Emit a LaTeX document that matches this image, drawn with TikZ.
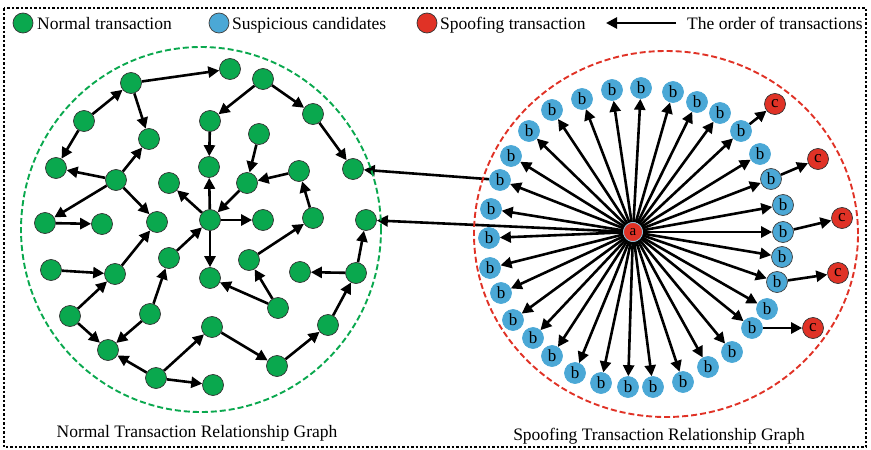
\documentclass[tikz,border=0pt]{standalone}
\usepackage{fontspec}
\setmainfont{Liberation Serif}
\usetikzlibrary{arrows.meta}
\pgfdeclarelayer{bg}
\pgfsetlayers{bg,main}
\definecolor{ngreen}{RGB}{10,168,78}
\definecolor{nblue}{RGB}{75,168,214}
\definecolor{nred}{RGB}{224,50,38}
\begin{document}
\begin{tikzpicture}[x=1pt,y=-1pt,
  gn/.style={circle,fill=ngreen,draw=black!80,line width=0.7pt,minimum size=21pt,inner sep=0pt},
  bn/.style={circle,fill=nblue,draw=nblue,line width=0.7pt,minimum size=21pt,inner sep=0pt,font=\fontsize{17}{17}\selectfont},
  bo/.style={bn,draw=black!75},
  cn/.style={circle,fill=nred,draw=black!80,line width=0.7pt,minimum size=21pt,inner sep=0pt,font=\fontsize{17}{17}\selectfont},
  an/.style={circle,fill=nred,draw=nblue!70,line width=0.7pt,minimum size=19pt,inner sep=0pt,font=\fontsize{15}{15}\selectfont},
  arr/.style={-{Triangle[length=11pt,width=11pt]},line width=2.6pt},
  lbl/.style={font=\fontsize{17.5}{20}\selectfont,inner sep=0pt,anchor=base west},
  captxt/.style={font=\fontsize{17.5}{20}\selectfont,inner sep=0pt,anchor=base}]
\useasboundingbox (0,0) rectangle (871,450);
% frame
\draw[line width=2.5pt,dash pattern=on 2.5pt off 2pt] (4,8) rectangle (866,447);
% legend
\node[gn,minimum size=20pt] (lg) at (23,23) {};
\node[lbl] (lgt) at (37,29) {Normal transaction};
\node[bo,minimum size=20pt] (lb) at (219,23) {};
\node[lbl] (lbt) at (232,29) {Suspicious candidates};
\node[cn,minimum size=20pt] (lr) at (427,23) {};
\node[lbl] (lrt) at (440,29) {Spoofing transaction};
\coordinate (la1) at (676,23);
\coordinate (la2) at (606,23);
\draw[arr] (la1) -- (la2);
\node[lbl] (lat) at (687,29) {The order of transactions};
% group circles
\draw[ngreen,line width=1.9pt,dash pattern=on 6pt off 3pt] (201,229.5) ellipse [x radius=180pt, y radius=182.5pt];
\draw[nred,line width=1.9pt,dash pattern=on 6pt off 3pt] (666,234) ellipse [x radius=192pt, y radius=183pt];
% captions
\node[captxt] (cap1) at (197,437) {Normal Transaction Relationship Graph};
\node[captxt] (cap2) at (659,440) {Spoofing Transaction Relationship Graph};
% left graph nodes
\foreach \i/\x/\y in {1/131/83,2/84/121,3/149/139,4/56/168,5/116/180,6/210/121,7/209/167,8/169/183,
  9/45/223,10/102/224,11/157/222,12/210/220,13/230/69,14/263/79,15/313/114,16/259/134,17/247/183,
  18/299/171,19/353/169,20/263/220,21/313/218,22/366/220,23/51/270,24/115/274,25/169/258,26/210/278,
  27/70/316,28/150/314,29/108/350,30/156/378,31/213/385,32/212/327,33/249/260,34/278/308,35/300/272,
  36/356/273,37/328/325,38/277/366}
  \node[gn] (n\i) at (\x,\y) {};
% right graph nodes
\node[an] (a) at (633,232) {a};
\foreach \i/\x/\y in {1/489/238,2/491/209,3/500/180,4/511/156,5/529/131,6/552/110,7/582/99,8/612/90,
  9/641/88,10/673/92,11/697/102,12/720/113,13/741/131,14/760/154,20/767/309,21/752/328,22/732/352,
  23/708/367,24/683/382,25/653/387,26/628/387,27/601/383,28/575/373,29/552/356,30/533/338,31/513/320,
  32/501/293,33/490/268}
  \node[bn] (b\i) at (\x,\y) {b};
\foreach \i/\x/\y in {15/771/179,16/783/205,17/783/232,18/782/257,19/777/282}
  \node[bo] (b\i) at (\x,\y) {b};
\foreach \i/\x/\y in {1/775/104,2/818/159,3/842/218,4/838/273,5/813/328}
  \node[cn] (c\i) at (\x,\y) {c};
% edges
\begin{pgfonlayer}{bg}
\foreach \s/\t in {1/13,2/1,1/3,2/4,5/4,5/3,5/9,5/11,6/7,12/7,12/8,14/6,14/15,15/19,16/17,18/17,17/12,
  21/18,9/10,23/24,24/11,25/12,12/26,27/24,27/29,28/25,28/29,30/29,30/32,30/31,12/20,33/21,34/33,
  34/26,36/35,36/22,37/36,38/37,32/38}
  \draw[arr] (n\s) -- (n\t);
\foreach \i in {1,...,33}
  \draw[arr] (a) -- (b\i);
\foreach \s/\t in {13/1,15/2,17/3,19/4,21/5}
  \draw[arr] (b\s) -- (c\t);
\draw[arr] (b3) -- (n19);
\draw[arr] (a) -- (n22);
\end{pgfonlayer}
\end{tikzpicture}
\end{document}
